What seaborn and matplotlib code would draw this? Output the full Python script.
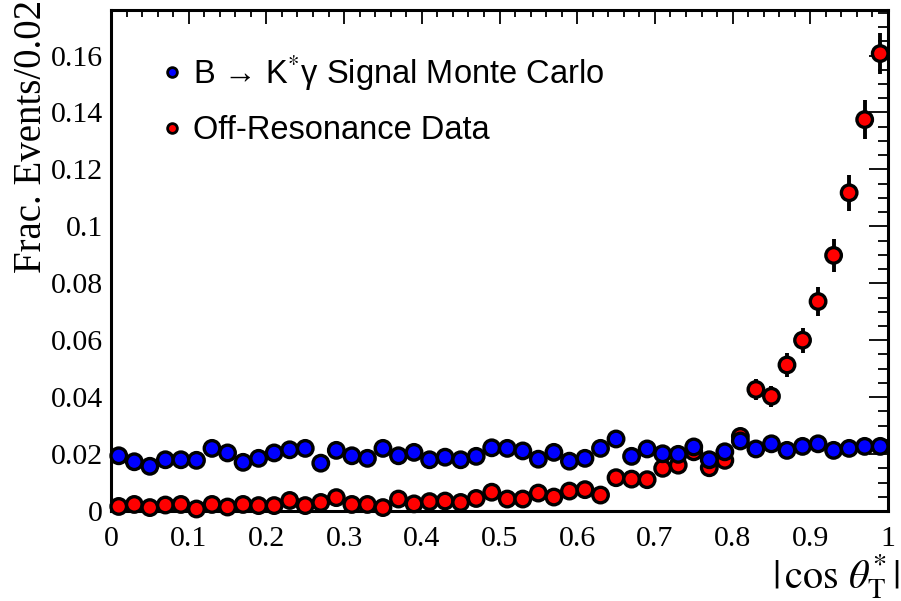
import matplotlib
matplotlib.use("Agg")
import matplotlib.pyplot as plt
from matplotlib.lines import Line2D
from matplotlib.ticker import MultipleLocator, FuncFormatter
import numpy as np
import pandas as pd
import seaborn as sns

# ---- data ----
bin_centers = [round(0.01 + 0.02 * i, 2) for i in range(50)]

signal_mc = [0.0194, 0.0173, 0.0157, 0.0180, 0.0180, 0.0178, 0.0220, 0.0204, 0.0171, 0.0185,
             0.0204, 0.0215, 0.0220, 0.0168, 0.0213, 0.0194, 0.0185, 0.0220, 0.0194, 0.0206,
             0.0180, 0.0189, 0.0180, 0.0192, 0.0222, 0.0220, 0.0211, 0.0182, 0.0206, 0.0175,
             0.0185, 0.0220, 0.0253, 0.0192, 0.0218, 0.0201, 0.0199, 0.0225, 0.0180, 0.0208,
             0.0246, 0.0218, 0.0236, 0.0213, 0.0227, 0.0236, 0.0213, 0.0220, 0.0227, 0.0227]

off_res = [0.0016, 0.0023, 0.0012, 0.0021, 0.0023, 0.0007, 0.0023, 0.0014, 0.0023, 0.0019,
           0.0019, 0.0037, 0.0019, 0.0030, 0.0047, 0.0023, 0.0023, 0.0012, 0.0042, 0.0025,
           0.0033, 0.0035, 0.0030, 0.0044, 0.0066, 0.0042, 0.0042, 0.0063, 0.0049, 0.0070,
           0.0075, 0.0056, 0.0117, 0.0112, 0.0110, 0.0150, 0.0161, 0.0208, 0.0152, 0.0178,
           0.0262, 0.0427, 0.0403, 0.0513, 0.0600, 0.0736, 0.0898, 0.1118, 0.1375, 0.1607]

off_res_err = [0.0007, 0.0009, 0.0006, 0.0008, 0.0009, 0.0005, 0.0009, 0.0007, 0.0009, 0.0008,
               0.0008, 0.0011, 0.0008, 0.0010, 0.0012, 0.0009, 0.0009, 0.0006, 0.0012, 0.0009,
               0.0010, 0.0011, 0.0010, 0.0012, 0.0015, 0.0012, 0.0012, 0.0014, 0.0013, 0.0015,
               0.0016, 0.0013, 0.0019, 0.0019, 0.0019, 0.0022, 0.0023, 0.0026, 0.0022, 0.0024,
               0.0029, 0.0036, 0.0036, 0.0041, 0.0044, 0.0050, 0.0057, 0.0063, 0.0069, 0.0073]

label_mc = "B → K$^{*}$γ Signal Monte Carlo"
label_off = "Off-Resonance Data"
bin_half_width = 0.01

df = pd.concat([
    pd.DataFrame({"x": bin_centers, "frac": off_res, "sample": label_off}),
    pd.DataFrame({"x": bin_centers, "frac": signal_mc, "sample": label_mc}),
], ignore_index=True)

# ---- style ----
sns.set_style("white")
plt.rcParams["font.family"] = ["Liberation Serif", "DejaVu Serif"]
plt.rcParams["mathtext.fontset"] = "stix"
plt.rcParams.update({"text.color": "black", "axes.labelcolor": "black",
                     "xtick.color": "black", "ytick.color": "black"})

fig = plt.figure(figsize=(9.01, 6.01), dpi=100)
ax = fig.add_axes([111 / 901, 1 - 511 / 601, 777 / 901, 501 / 601])

colors = {label_off: "#ff0000", label_mc: "#0000ff"}

ax.errorbar(bin_centers, off_res, yerr=off_res_err, xerr=bin_half_width, fmt="none",
            ecolor="black", elinewidth=2.8, capsize=0, zorder=2)
sns.scatterplot(data=df, x="x", y="frac", hue="sample", palette=colors, s=125,
                edgecolor="black", linewidth=2.4, legend=False, ax=ax, zorder=3,
                clip_on=False)

ax.set_xlim(0, 1)
ax.set_ylim(0, 0.176)

ax.xaxis.set_major_locator(MultipleLocator(0.1))
ax.xaxis.set_minor_locator(MultipleLocator(0.02))
ax.yaxis.set_major_locator(MultipleLocator(0.02))
ax.yaxis.set_minor_locator(MultipleLocator(0.005))
fmt = FuncFormatter(lambda v, p: "%g" % round(v, 3))
ax.xaxis.set_major_formatter(fmt)
ax.yaxis.set_major_formatter(fmt)

ax.tick_params(which="both", direction="in", top=True, right=True, labelsize=21.5, width=1.3,
               colors="black")
ax.tick_params(axis="y", which="major", length=14, pad=6)
ax.tick_params(axis="y", which="minor", length=7)
ax.tick_params(axis="x", which="major", length=10, pad=11)
ax.tick_params(axis="x", which="minor", length=5)
for s in ax.spines.values():
    s.set_linewidth(2.2)
    s.set_color("black")

ax.set_ylabel("Frac. Events/0.02", fontsize=28, loc="top")
ax.yaxis.set_label_coords(-0.078, 1.02)
ax.set_xlabel(r"$|\,\cos\,\theta^{*}_{\mathrm{T}}\,|$", fontsize=29, loc="right")
ax.xaxis.set_label_coords(1.016, -0.082)

handles = [
    Line2D([], [], marker="o", linestyle="none", markerfacecolor="#0000ff",
           markeredgecolor="black", markersize=7, markeredgewidth=2),
    Line2D([], [], marker="o", linestyle="none", markerfacecolor="#ff0000",
           markeredgecolor="black", markersize=7, markeredgewidth=2),
]
ax.legend(handles, [label_mc, label_off], loc="upper left",
          bbox_to_anchor=(162 / 901, 1 - 53 / 601), bbox_transform=fig.transFigure,
          frameon=False, handlelength=0.6, handletextpad=0.35, labelspacing=0.7,
          borderpad=0, borderaxespad=0,
          prop={"family": ["Liberation Sans", "DejaVu Sans"], "size": 23.5})

fig.savefig("out.png", dpi=100)
